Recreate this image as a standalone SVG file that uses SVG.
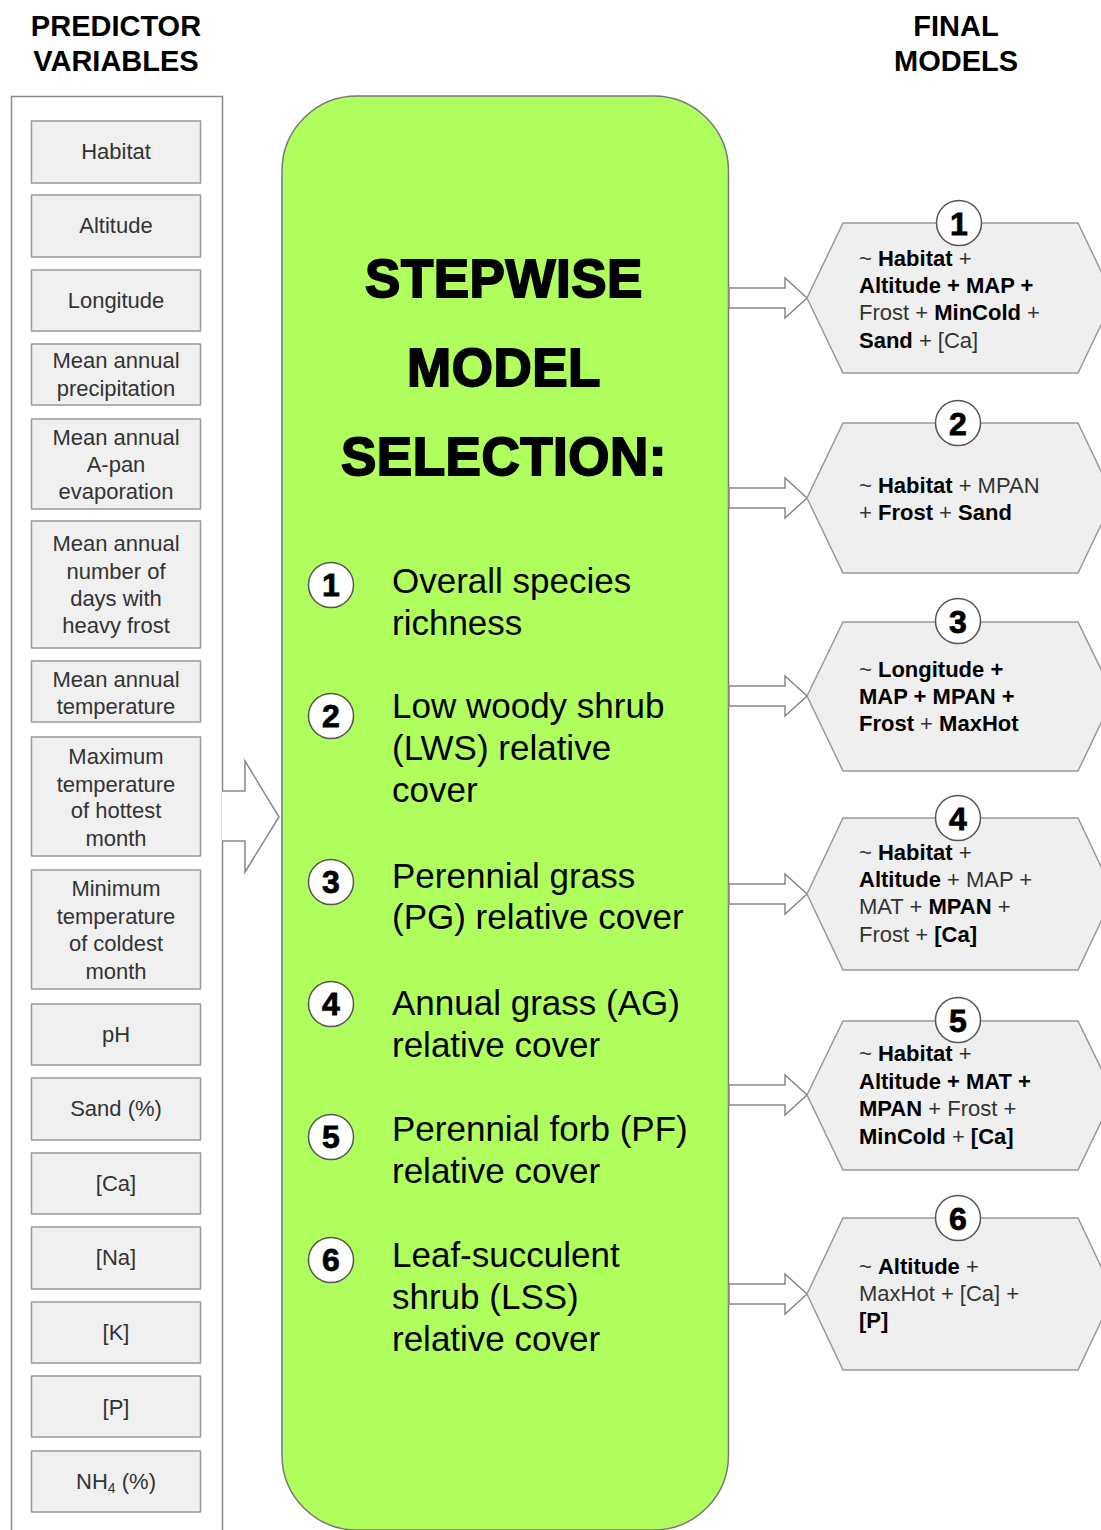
<svg xmlns="http://www.w3.org/2000/svg" width="1101" height="1530" viewBox="0 0 1101 1530">
<style>
.hdr{font-family:"Liberation Sans",Arial,sans-serif;font-weight:bold;font-size:29px;fill:#000;text-anchor:middle}
.box{fill:#f0f0f0;stroke:#999;stroke-width:1.5}
.bt{font-family:"Liberation Sans",Arial,sans-serif;font-size:22px;fill:#333;text-anchor:middle}
.title{font-family:"Liberation Sans",Arial,sans-serif;font-weight:bold;font-size:53px;fill:#000;stroke:#000;stroke-width:1.8;text-anchor:middle;letter-spacing:0.5px}
.circ{fill:#fff;stroke:#555;stroke-width:1.5}
.num{font-family:"Liberation Sans",Arial,sans-serif;font-weight:bold;font-size:32px;fill:#000;stroke:#000;stroke-width:0.8;text-anchor:middle}
.it{font-family:"Liberation Sans",Arial,sans-serif;font-size:35px;fill:#000}
.hex{fill:#efefef;stroke:#999;stroke-width:1.5}
.ht{font-family:"Liberation Sans",Arial,sans-serif;font-size:22px;fill:#333}
.b{font-weight:bold;fill:#000}
.arr{fill:#fff;stroke:#888;stroke-width:1.5}
</style>

<text class="hdr" x="116" y="36">PREDICTOR</text>
<text class="hdr" x="116" y="71">VARIABLES</text>
<text class="hdr" x="956" y="36">FINAL</text>
<text class="hdr" x="956" y="71">MODELS</text>

<g id="predictor-panel">
<path d="M11.5,1532 V96.5 H222.5 V1532" fill="#fff" stroke="#888" stroke-width="1.5"/>
</g>

<g id="p-habitat"><rect class="box" x="31.5" y="121" width="169" height="62"/><text class="bt" x="116" y="159">Habitat</text></g>
<g id="p-altitude"><rect class="box" x="31.5" y="195" width="169" height="62"/><text class="bt" x="116" y="233">Altitude</text></g>
<g id="p-longitude"><rect class="box" x="31.5" y="270" width="169" height="61"/><text class="bt" x="116" y="308">Longitude</text></g>
<g id="p-map"><rect class="box" x="31.5" y="344" width="169" height="61"/><text class="bt" x="116" y="368">Mean annual</text><text class="bt" x="116" y="396">precipitation</text></g>
<g id="p-apan"><rect class="box" x="31.5" y="419" width="169" height="90"/><text class="bt" x="116" y="445">Mean annual</text><text class="bt" x="116" y="472">A-pan</text><text class="bt" x="116" y="499">evaporation</text></g>
<g id="p-frost"><rect class="box" x="31.5" y="521" width="169" height="127"/><text class="bt" x="116" y="551">Mean annual</text><text class="bt" x="116" y="579">number of</text><text class="bt" x="116" y="606">days with</text><text class="bt" x="116" y="633">heavy frost</text></g>
<g id="p-mat"><rect class="box" x="31.5" y="661" width="169" height="61"/><text class="bt" x="116" y="687">Mean annual</text><text class="bt" x="116" y="714">temperature</text></g>
<g id="p-maxhot"><rect class="box" x="31.5" y="737" width="169" height="119"/><text class="bt" x="116" y="764">Maximum</text><text class="bt" x="116" y="792">temperature</text><text class="bt" x="116" y="818">of hottest</text><text class="bt" x="116" y="846">month</text></g>
<g id="p-mincold"><rect class="box" x="31.5" y="870" width="169" height="119"/><text class="bt" x="116" y="896">Minimum</text><text class="bt" x="116" y="924">temperature</text><text class="bt" x="116" y="951">of coldest</text><text class="bt" x="116" y="979">month</text></g>
<g id="p-ph"><rect class="box" x="31.5" y="1004" width="169" height="61"/><text class="bt" x="116" y="1042">pH</text></g>
<g id="p-sand"><rect class="box" x="31.5" y="1078" width="169" height="62"/><text class="bt" x="116" y="1116">Sand (%)</text></g>
<g id="p-ca"><rect class="box" x="31.5" y="1153" width="169" height="61"/><text class="bt" x="116" y="1191">[Ca]</text></g>
<g id="p-na"><rect class="box" x="31.5" y="1227" width="169" height="62"/><text class="bt" x="116" y="1265">[Na]</text></g>
<g id="p-k"><rect class="box" x="31.5" y="1302" width="169" height="61"/><text class="bt" x="116" y="1340">[K]</text></g>
<g id="p-p"><rect class="box" x="31.5" y="1376" width="169" height="61"/><text class="bt" x="116" y="1415">[P]</text></g>
<g id="p-nh4"><rect class="box" x="31.5" y="1451" width="169" height="61"/><text class="bt" x="116" y="1489">NH<tspan font-size="14" dy="4">4</tspan><tspan dy="-4"> (%)</tspan></text></g>

<g id="selection">
<rect x="282" y="96" width="446.5" height="1434" rx="75" ry="75" fill="#b0fe5e" stroke="#777" stroke-width="1.5"/>
<text class="title" x="504" y="297">STEPWISE</text>
<text class="title" x="504" y="386">MODEL</text>
<text class="title" x="504" y="475">SELECTION:</text>
<circle class="circ" cx="331" cy="585" r="22.5"/><text class="num" x="331" y="596">1</text>
<text class="it" x="392" y="593">Overall species</text><text class="it" x="392" y="635">richness</text>
<circle class="circ" cx="331" cy="716" r="22.5"/><text class="num" x="331" y="727">2</text>
<text class="it" x="392" y="718">Low woody shrub</text><text class="it" x="392" y="760">(LWS) relative</text><text class="it" x="392" y="802">cover</text>
<circle class="circ" cx="331" cy="882" r="22.5"/><text class="num" x="331" y="893">3</text>
<text class="it" x="392" y="888">Perennial grass</text><text class="it" x="392" y="929">(PG) relative cover</text>
<circle class="circ" cx="331" cy="1004" r="22.5"/><text class="num" x="331" y="1015">4</text>
<text class="it" x="392" y="1015">Annual grass (AG)</text><text class="it" x="392" y="1057">relative cover</text>
<circle class="circ" cx="331" cy="1137" r="22.5"/><text class="num" x="331" y="1148">5</text>
<text class="it" x="392" y="1141">Perennial forb (PF)</text><text class="it" x="392" y="1183">relative cover</text>
<circle class="circ" cx="331" cy="1260" r="22.5"/><text class="num" x="331" y="1271">6</text>
<text class="it" x="392" y="1267">Leaf-succulent</text><text class="it" x="392" y="1309">shrub (LSS)</text><text class="it" x="392" y="1351">relative cover</text>
</g>

<g id="connectors">
<polygon points="222,791 245,791 245,761 279,817 245,872 245,841 222,841" fill="#fff" stroke="none"/>
<polyline points="222,791 245,791 245,761 279,817 245,872 245,841 222,841" fill="none" stroke="#888" stroke-width="1.5"/>
<polygon class="arr" points="729,288 785,288 785,278 807,298 785,318 785,308 729,308"/>
<polygon class="arr" points="729,488 785,488 785,478 807,498 785,518 785,508 729,508"/>
<polygon class="arr" points="729,686 785,686 785,676 807,696 785,716 785,706 729,706"/>
<polygon class="arr" points="729,884 785,884 785,874 807,894 785,914 785,904 729,904"/>
<polygon class="arr" points="729,1085 785,1085 785,1075 807,1095 785,1115 785,1105 729,1105"/>
<polygon class="arr" points="729,1284 785,1284 785,1274 807,1294 785,1314 785,1304 729,1304"/>
</g>

<g id="m1">
<polygon class="hex" points="807,298 843,223 1078,223 1114,298 1078,373 843,373"/>
<circle class="circ" cx="959" cy="223" r="22.5"/><text class="num" x="959" y="235" font-size="34">1</text>
<text class="ht" x="859" y="266">~ <tspan class="b">Habitat</tspan> +</text>
<text class="ht" x="859" y="293"><tspan class="b">Altitude + MAP +</tspan></text>
<text class="ht" x="859" y="320">Frost + <tspan class="b">MinCold</tspan> +</text>
<text class="ht" x="859" y="348"><tspan class="b">Sand</tspan> + [Ca]</text>
</g>
<g id="m2">
<polygon class="hex" points="807,498 843,423 1078,423 1114,498 1078,573 843,573"/>
<circle class="circ" cx="958" cy="423" r="22.5"/><text class="num" x="958" y="435" font-size="34">2</text>
<text class="ht" x="859" y="493">~ <tspan class="b">Habitat</tspan> + MPAN</text>
<text class="ht" x="859" y="520">+ <tspan class="b">Frost</tspan> + <tspan class="b">Sand</tspan></text>
</g>
<g id="m3">
<polygon class="hex" points="807,696 843,622 1078,622 1114,696 1078,771 843,771"/>
<circle class="circ" cx="958" cy="621" r="22.5"/><text class="num" x="958" y="633" font-size="34">3</text>
<text class="ht" x="859" y="677">~ <tspan class="b">Longitude +</tspan></text>
<text class="ht" x="859" y="704"><tspan class="b">MAP + MPAN +</tspan></text>
<text class="ht" x="859" y="731"><tspan class="b">Frost</tspan> + <tspan class="b">MaxHot</tspan></text>
</g>
<g id="m4">
<polygon class="hex" points="807,894 843,818 1078,818 1114,894 1078,970 843,970"/>
<circle class="circ" cx="958" cy="818" r="22.5"/><text class="num" x="958" y="830" font-size="34">4</text>
<text class="ht" x="859" y="860">~ <tspan class="b">Habitat</tspan> +</text>
<text class="ht" x="859" y="887"><tspan class="b">Altitude</tspan> + MAP  +</text>
<text class="ht" x="859" y="914">MAT  + <tspan class="b">MPAN</tspan> +</text>
<text class="ht" x="859" y="942">Frost + <tspan class="b">[Ca]</tspan></text>
</g>
<g id="m5">
<polygon class="hex" points="807,1095 843,1021 1078,1021 1114,1095 1078,1170 843,1170"/>
<circle class="circ" cx="958" cy="1020" r="22.5"/><text class="num" x="958" y="1032" font-size="34">5</text>
<text class="ht" x="859" y="1061">~ <tspan class="b">Habitat</tspan> +</text>
<text class="ht" x="859" y="1089"><tspan class="b">Altitude + MAT +</tspan></text>
<text class="ht" x="859" y="1116"><tspan class="b">MPAN</tspan> + Frost +</text>
<text class="ht" x="859" y="1144"><tspan class="b">MinCold</tspan> + <tspan class="b">[Ca]</tspan></text>
</g>
<g id="m6">
<polygon class="hex" points="807,1294 843,1218 1078,1218 1114,1294 1078,1370 843,1370"/>
<circle class="circ" cx="958" cy="1218" r="22.5"/><text class="num" x="958" y="1230" font-size="34">6</text>
<text class="ht" x="859" y="1274">~ <tspan class="b">Altitude</tspan> +</text>
<text class="ht" x="859" y="1301">MaxHot  + [Ca] +</text>
<text class="ht" x="859" y="1328"><tspan class="b">[P]</tspan></text>
</g>
</svg>
